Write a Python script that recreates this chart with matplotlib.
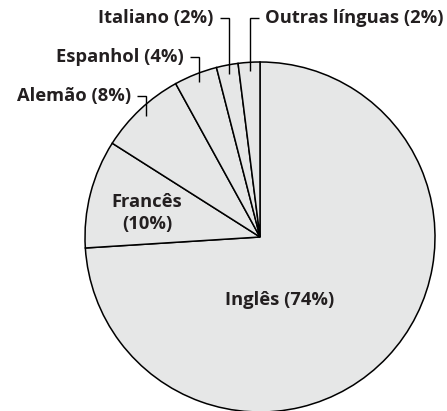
import numpy as np
import matplotlib.pyplot as plt

# ------------------------------------------------------
# Data
# ------------------------------------------------------
LANGUAGES = ["Inglês", "Francês", "Alemão", "Espanhol", "Italiano", "Outras línguas"]
SHARES = [74, 10, 8, 4, 2, 2]

# ------------------------------------------------------
# Style / layout
# ------------------------------------------------------
W, H = 447, 411
CENTER = (260, H - 237)
RADIUS = 175
FILL = "#e6e7e7"
TEXT_COLOR = "#231f20"
FONT = ["Open Sans", "DejaVu Sans"]
FS = 13.2

# outside labels: (slice index, label y from top, hook direction)
OUTSIDE = [
    (2, 96, -1),
    (3, 57, -1),
    (4, 18.5, -1),
    (5, 18.5, 1),
]

fig = plt.figure(figsize=(W / 100, H / 100), dpi=100)
ax = fig.add_axes([0, 0, 1, 1])

wedges, _ = ax.pie(
    SHARES,
    startangle=90,
    counterclock=False,
    center=CENTER,
    radius=RADIUS,
    colors=[FILL] * len(SHARES),
    wedgeprops=dict(edgecolor="black", linewidth=1.1),
    frame=True,
)
ax.set_xlim(0, W)
ax.set_ylim(0, H)
ax.set_aspect("equal")
ax.axis("off")

txt = dict(color=TEXT_COLOR, fontsize=FS, fontweight="bold", family=FONT)

# labels inside the pie
ax.text(147, H - 213, f"{LANGUAGES[1]}\n({SHARES[1]}%)", ha="center", va="center",
        linespacing=1.3, **txt)
ax.text(280, H - 300, f"{LANGUAGES[0]} ({SHARES[0]}%)", ha="center", va="center", **txt)

# leader lines for the thin slices
for idx, label_y, direction in OUTSIDE:
    w = wedges[idx]
    mid = np.deg2rad((w.theta1 + w.theta2) / 2)
    tip_x = CENTER[0] + 0.95 * RADIUS * np.cos(mid)
    tip_y = CENTER[1] + 0.95 * RADIUS * np.sin(mid)
    y = H - label_y
    hook_x = tip_x + direction * 9
    ax.plot([tip_x, tip_x, hook_x], [tip_y, y, y], color="black", lw=1.0,
            solid_joinstyle="miter", solid_capstyle="butt")
    ax.text(hook_x + direction * 6, y, f"{LANGUAGES[idx]} ({SHARES[idx]}%)",
            ha="left" if direction > 0 else "right", va="center", **txt)

fig.savefig("out.png", dpi=100)
